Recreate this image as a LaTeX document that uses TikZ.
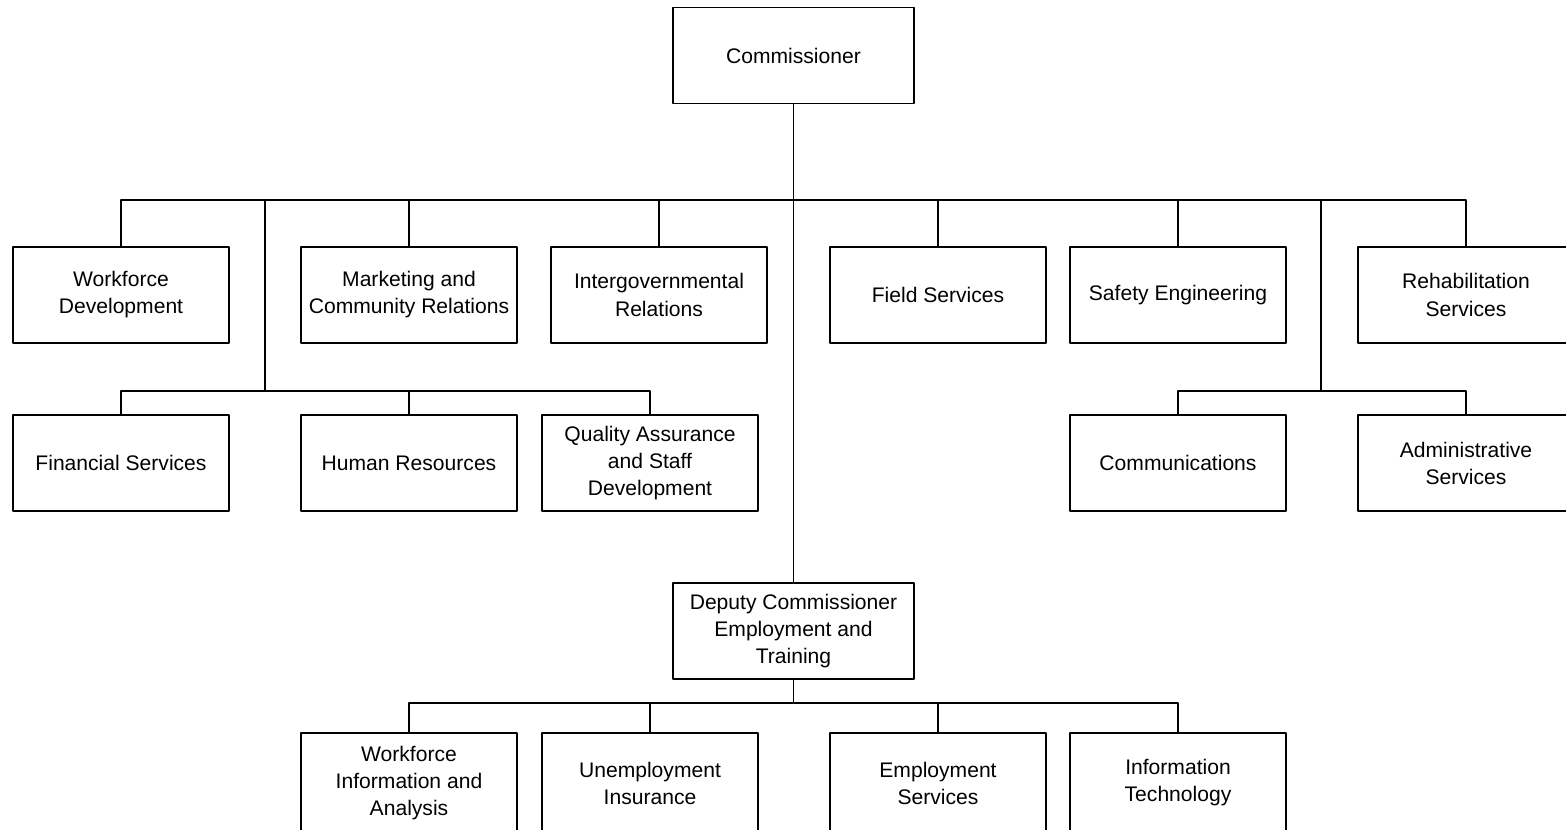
\documentclass[tikz,border=0pt]{standalone}
\usepackage{fontspec}
\setmainfont{Liberation Sans}
\usetikzlibrary{positioning}

\tikzset{
  unit/.style={draw,line width=0.75pt,minimum width=4.32cm,minimum height=1.92cm,
    align=center,inner sep=2pt},
  head/.style={unit,minimum width=4.82cm},
  low/.style={unit,minimum height=2cm},
  link/.style={line width=0.75pt}
}

\begin{document}
\begin{tikzpicture}[font=\fontsize{12}{15.4}\selectfont,line join=round]
  \useasboundingbox (0,0) rectangle (31.32,16.6);

  % ---------- commissioner and deputy ----------
  \node[head] (com) at (15.87,15.49) {Commissioner};
  \node[head] (dep) at (15.87,3.98) {Deputy Commissioner\\Employment and\\Training};

  % ---------- first row of units ----------
  \node[unit] (wfd) at ( 2.42,10.7) {Workforce\\Development};
  \node[unit] (mkt) at ( 8.18,10.7) {Marketing and\\Community Relations};
  \node[unit] (igr) at (13.18,10.7) {Intergovernmental\\Relations};
  \node[unit] (fld) at (18.76,10.7) {Field Services};
  \node[unit] (saf) at (23.56,10.7) {Safety Engineering};
  \node[unit] (reh) at (29.32,10.7) {Rehabilitation\\Services};

  % ---------- second row of units ----------
  \node[unit] (fin) at ( 2.42,7.34) {Financial Services};
  \node[unit] (hum) at ( 8.18,7.34) {Human Resources};
  \node[unit] (qas) at (13.00,7.34) {Quality Assurance\\and Staff\\Development};
  \node[unit] (cmm) at (23.56,7.34) {Communications};
  \node[unit] (adm) at (29.32,7.34) {Administrative\\Services};

  % ---------- units under the deputy ----------
  \node[low] (wia) at ( 8.18,0.94) {Workforce\\Information and\\Analysis};
  \node[low] (uin) at (13.00,0.94) {Unemployment\\Insurance};
  \node[low] (emp) at (18.76,0.94) {Employment\\Services};
  \node[low] (itc) at (23.56,0.94) {Information\\Technology};

  % ---------- connector bars ----------
  \coordinate (bar)  at (15.87,12.6);
  \coordinate (lbar) at ( 5.30,8.78);
  \coordinate (rbar) at (26.42,8.78);
  \coordinate (dbar) at (15.87,2.54);

  \draw[link] (com.south) -- (dep.north);
  \draw[link] (wfd.north) |- (bar) -| (reh.north);
  \foreach \u in {mkt,igr,fld,saf}
    \draw[link] (\u.north) -- (\u.north |- bar);

  % left branch
  \draw[link] (lbar) -- (lbar |- bar);
  \draw[link] (fin.north) |- (lbar) -| (qas.north);
  \draw[link] (hum.north) -- (hum.north |- lbar);

  % right branch
  \draw[link] (rbar) -- (rbar |- bar);
  \draw[link] (cmm.north) |- (rbar) -| (adm.north);

  % deputy branch
  \draw[link] (dep.south) -- (dbar);
  \draw[link] (wia.north) |- (dbar) -| (itc.north);
  \foreach \u in {uin,emp}
    \draw[link] (\u.north) -- (\u.north |- dbar);
\end{tikzpicture}
\end{document}
